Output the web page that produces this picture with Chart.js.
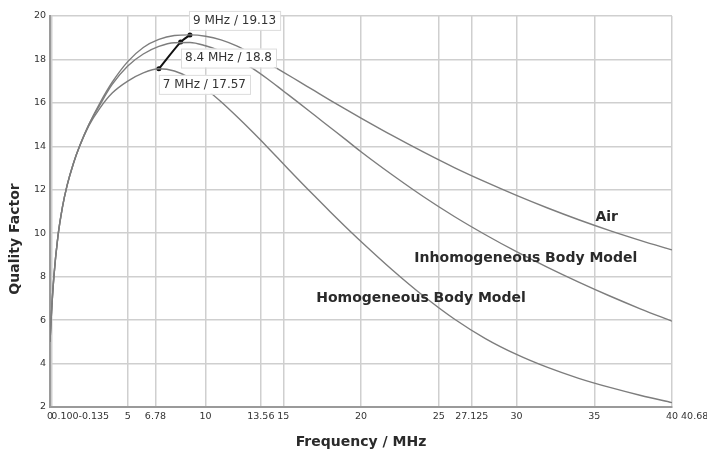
<!DOCTYPE html>
<html>
<head>
<meta charset="utf-8">
<script src="https://cdn.jsdelivr.net/npm/chart.js@4.4.1/dist/chart.umd.min.js"></script>
<style>
    html, body { margin: 0; padding: 0; background: #fff; }
    #wrap { width: 707px; height: 453px; }
</style>
</head>
<body>
<div id="wrap"><canvas id="qualityChart"></canvas></div>
<script>
// frequency in MHz, quality factor
const freqs = [0, 0.1, 0.25, 0.5, 0.8, 1.1, 1.5, 1.9, 2.5, 3.2, 4, 5, 6, 7, 8, 9, 10, 11, 12, 13, 14, 15, 16, 17, 18, 19, 20, 22, 24, 26, 28, 30, 32, 34, 36, 38, 40];
const airQ = [5.0, 6.4, 8.0, 9.8, 11.2, 12.2, 13.2, 14.0, 15.0, 15.98, 16.95, 17.9, 18.55, 18.92, 19.1, 19.13, 19.07, 18.9, 18.62, 18.25, 17.84, 17.42, 16.99, 16.56, 16.13, 15.71, 15.3, 14.5, 13.74, 13.02, 12.36, 11.74, 11.16, 10.62, 10.12, 9.66, 9.23];
const inhomogeneousQ = [5.0, 6.4, 8.0, 9.8, 11.2, 12.2, 13.2, 14.0, 15.0, 15.9, 16.85, 17.7, 18.25, 18.6, 18.77, 18.78, 18.63, 18.38, 18.03, 17.6, 17.1, 16.55, 16.0, 15.44, 14.88, 14.32, 13.75, 12.69, 11.69, 10.77, 9.93, 9.15, 8.43, 7.75, 7.11, 6.51, 5.95];
const homogeneousQ = [5.0, 6.4, 8.0, 9.8, 11.2, 12.2, 13.2, 14.0, 14.95, 15.75, 16.45, 17.0, 17.38, 17.57, 17.47, 17.15, 16.65, 16.05, 15.38, 14.68, 13.95, 13.2, 12.45, 11.72, 11.0, 10.3, 9.62, 8.32, 7.12, 6.05, 5.15, 4.42, 3.82, 3.32, 2.9, 2.53, 2.2];

const peakFreqs = [7, 8.4, 9];
const peakQs = [17.57, 18.8, 19.13];

const xTickValues = [0, 0.1, 5, 6.78, 10, 13.56, 15, 20, 25, 27.125, 30, 35, 40, 40.68];
const yTickValues = [2, 4, 6, 8, 10, 12, 14, 16, 18, 20];

const curveNames = ['Air', 'Inhomogeneous Body Model', 'Homogeneous Body Model'];
const curveNameAt = [[35.8, 10.75], [30.6, 8.86], [23.86, 7.0]];

function toPoints(xs, ys) {
    return xs.map((x, i) => ({ x: x, y: ys[i] }));
}

function xTickLabel(value) {
    if (value === 0.1) return ' '.repeat(19) + '0.100-0.135';
    if (value === 40.68) return ' '.repeat(8) + '40.68';
    return String(value);
}

// the 40.68 label sits past the axis end, so no grid line for it
function xGridColor(context) {
    return context.tick && context.tick.value > 40 ? 'rgba(0,0,0,0)' : '#cfcfcf';
}

// text placed relative to each peak marker: [dx to text start, dy to text middle]
const peakTextOffsets = [[4, 15.6], [4.4, 16], [3, -14.5]];

const overlayPlugin = {
    id: 'overlay',
    afterDatasetsDraw(chart) {
        const ctx = chart.ctx;
        const x = chart.scales.x;
        const y = chart.scales.y;

        ctx.save();
        ctx.font = '12px "DejaVu Sans"';
        ctx.textBaseline = 'middle';
        ctx.textAlign = 'left';
        peakFreqs.forEach((f, i) => {
            const text = f + ' MHz / ' + peakQs[i];
            const tx = x.getPixelForValue(f) + peakTextOffsets[i][0];
            const ty = y.getPixelForValue(peakQs[i]) + peakTextOffsets[i][1];
            const w = ctx.measureText(text).width;
            ctx.fillStyle = '#fff';
            ctx.fillRect(tx - 4, ty - 9.5, w + 8, 19);
            ctx.strokeStyle = '#dcdcdc';
            ctx.lineWidth = 1;
            ctx.strokeRect(tx - 4 + 0.5, ty - 9.5 + 0.5, w + 8, 19);
            ctx.fillStyle = '#333';
            ctx.fillText(text, tx, ty);
        });

        ctx.font = 'bold 14px "DejaVu Sans"';
        ctx.textAlign = 'center';
        ctx.fillStyle = '#2a2a2a';
        curveNames.forEach((name, i) => {
            ctx.fillText(name, x.getPixelForValue(curveNameAt[i][0]), y.getPixelForValue(curveNameAt[i][1]));
        });

        ctx.translate(15, 239);
        ctx.rotate(-Math.PI / 2);
        ctx.fillText('Quality Factor', 0, 0);
        ctx.restore();
    }
};

function curve(data) {
    return {
        data: data,
        borderColor: '#7d7d7d',
        borderWidth: 1.4,
        pointRadius: 0,
        cubicInterpolationMode: 'monotone',
        fill: false
    };
}

new Chart('qualityChart', {
    type: 'line',
    data: {
        datasets: [
            curve(toPoints(freqs, airQ)),
            curve(toPoints(freqs, inhomogeneousQ)),
            curve(toPoints(freqs, homogeneousQ)),
            {
                data: toPoints(peakFreqs, peakQs),
                borderColor: '#111',
                backgroundColor: '#111',
                borderWidth: 2,
                pointRadius: 2.5,
                pointBorderWidth: 0,
                tension: 0.3
            }
        ]
    },
    options: {
        responsive: true,
        maintainAspectRatio: false,
        animation: false,
        devicePixelRatio: 1,
        layout: { padding: { top: 16, right: 35, bottom: 0, left: 0 } },
        plugins: {
            legend: { display: false },
            tooltip: { enabled: false }
        },
        scales: {
            x: {
                type: 'linear',
                min: 0,
                max: 40,
                afterBuildTicks: axis => { axis.ticks = xTickValues.map(v => ({ value: v })); },
                afterFit: axis => { axis.height = 46; axis.paddingLeft = 0; axis.paddingRight = 0; },
                ticks: {
                    autoSkip: false,
                    maxRotation: 0,
                    minRotation: 0,
                    padding: 4,
                    color: '#333',
                    font: { family: 'DejaVu Sans', size: 9.5 },
                    callback: xTickLabel
                },
                grid: { color: xGridColor, lineWidth: 1.5, drawTicks: false },
                border: { color: '#9a9a9a', width: 2 },
                title: {
                    display: true,
                    text: 'Frequency / MHz',
                    color: '#2a2a2a',
                    font: { family: 'DejaVu Sans', size: 14, weight: 'bold' },
                    padding: { top: 0, bottom: 2 }
                }
            },
            y: {
                min: 2,
                max: 20,
                afterBuildTicks: axis => { axis.ticks = yTickValues.map(v => ({ value: v })); },
                afterFit: axis => { axis.width = 50; axis.paddingTop = 0; axis.paddingBottom = 0; },
                ticks: {
                    padding: 4,
                    color: '#333',
                    font: { family: 'DejaVu Sans', size: 9.5 }
                },
                grid: { color: '#cfcfcf', lineWidth: 1.5, drawTicks: false },
                border: { color: '#9a9a9a', width: 2 }
            }
        }
    },
    plugins: [overlayPlugin]
});
</script>
</body>
</html>
